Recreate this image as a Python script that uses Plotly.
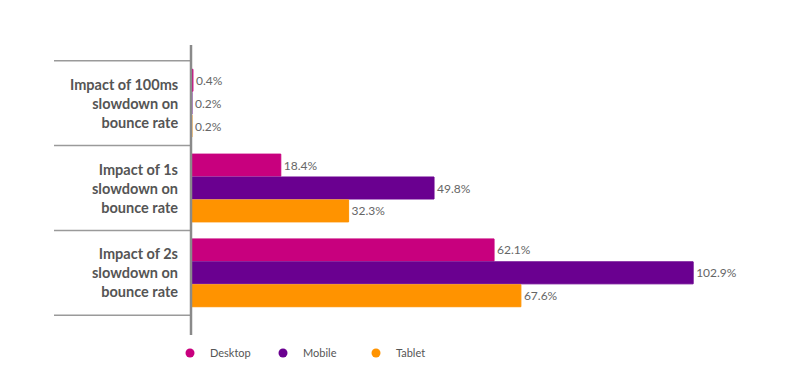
import plotly.graph_objects as go

categories = ["Impact of 100ms<br>slowdown on<br>bounce rate",
              "Impact of 1s<br>slowdown on<br>bounce rate",
              "Impact of 2s<br>slowdown on<br>bounce rate"]
series_names = ["Desktop", "Mobile", "Tablet"]
desktop = [0.4, 18.4, 62.1]
mobile = [0.2, 49.8, 102.9]
tablet = [0.2, 32.3, 67.6]
colors = ["#C8007E", "#6A0090", "#FF9300"]

# page body has an 8px margin; compensate
W, H = 784, 383
L, R, T, B = 183, 15, 52, 75
pw = W - L - R
ph = H - T - B

fig = go.Figure()
for name, vals, c in zip(series_names, [desktop, mobile, tablet], colors):
    fig.add_trace(go.Bar(
        y=categories, x=vals, orientation="h", name=name,
        marker=dict(color=c, line=dict(width=1, color=c)),
        text=[f"{v}%" for v in vals], textposition="outside",
        textfont=dict(color="#666666", size=12, family="Lato"),
        cliponaxis=False, showlegend=False, hoverinfo="x+name"))
    fig.add_trace(go.Scatter(
        x=[None], y=[None], mode="markers", name=name,
        marker=dict(color=c, size=9, symbol="circle")))

# category labels
for cat in categories:
    fig.add_annotation(x=-11 / pw, xref="paper", y=cat, yref="y", text=f"<b>{cat}</b>",
                       showarrow=False, xanchor="right", align="right",
                       font=dict(family="Lato", size=14.5, color="#555555"))

# separator lines
for b in [-0.5, 0.5, 1.5, 2.5]:
    fig.add_shape(type="line", xref="paper", yref="y", x0=-137 / pw, x1=0, y0=b, y1=b,
                  line=dict(color="#9a9a9a", width=1.5))
# vertical axis line
fig.add_shape(type="line", xref="paper", yref="paper", x0=0, x1=0,
              y0=-19 / ph, y1=(ph + 15) / ph, line=dict(color="#8a8a8a", width=2.5))

fig.update_layout(
    width=W, height=H, margin=dict(l=L, r=R, t=T, b=B),
    paper_bgcolor="white", plot_bgcolor="white",
    barmode="group", bargap=0.19, bargroupgap=0.04,
    xaxis=dict(range=[0, pw / 4.88], visible=False),
    yaxis=dict(autorange="reversed", showticklabels=False, showgrid=False,
               zeroline=False, showline=False, ticks=""),
    legend=dict(orientation="h", x=-21 / pw, xanchor="left", y=-37 / ph, yanchor="middle",
                font=dict(family="Lato", size=11, color="#555555"),
                entrywidth=48, entrywidthmode="pixels", bgcolor="rgba(0,0,0,0)"),
    font=dict(family="Lato"),
)
fig.write_html("out.html")
